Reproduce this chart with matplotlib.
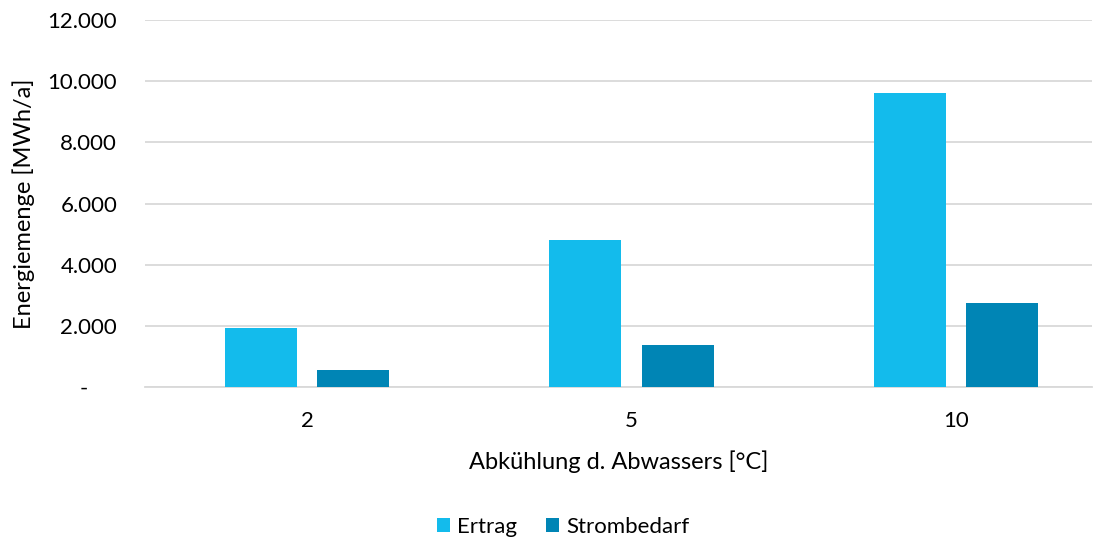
import matplotlib
matplotlib.use("Agg")
import matplotlib.pyplot as plt
import numpy as np
from matplotlib.ticker import FuncFormatter

categories = ["2", "5", "10"]
ertrag = [1920, 4800, 9600]
strombedarf = [550, 1370, 2740]
series_names = ["Ertrag", "Strombedarf"]
colors = ["#13BBEC", "#0085B5"]

plt.rcParams['font.family'] = ['Lato', 'DejaVu Sans']

fig = plt.figure(figsize=(11.07, 5.40), dpi=100)
ax = fig.add_axes([145/1107, 1 - 387/540, (1092-145)/1107, (387-20)/540])

x = np.arange(len(categories))
w = 0.222
off = 0.142
b1 = ax.bar(x - off, ertrag, w, color=colors[0], label=series_names[0], zorder=3)
b2 = ax.bar(x + off, strombedarf, w, color=colors[1], label=series_names[1], zorder=3)

ax.set_xlim(-0.5, 2.42)
ax.set_ylim(0, 12000)
ax.set_yticks(np.arange(0, 12001, 2000))
ax.yaxis.set_major_formatter(FuncFormatter(lambda v, p: "-     " if v == 0 else f"{int(v):,}".replace(",", ".")))
ax.set_xticks(x)
ax.set_xticklabels(categories)
ax.grid(axis='y', color='#D9D9D9', linewidth=1.3, zorder=0)
for s in ["top", "right", "left"]:
    ax.spines[s].set_visible(False)
ax.spines["bottom"].set_color('#D9D9D9')
ax.spines["bottom"].set_linewidth(1.3)
ax.tick_params(axis='both', length=0, labelsize=16, colors='#000000')
ax.tick_params(axis='y', pad=20)
ax.tick_params(axis='x', pad=17)

ax.set_ylabel("Energiemenge [MWh/a]", fontsize=17, labelpad=9)
ax.set_xlabel("Abkühlung d. Abwassers [°C]", fontsize=17, labelpad=14)

fig.legend(handles=[b1, b2], labels=series_names, loc='center', bbox_to_anchor=(563/1107, 1 - 527/540),
           ncol=2, frameon=False, fontsize=16, handlelength=0.6, handleheight=0.6, handletextpad=0.3,
           columnspacing=1.3)

fig.savefig("out.png", dpi=100)
